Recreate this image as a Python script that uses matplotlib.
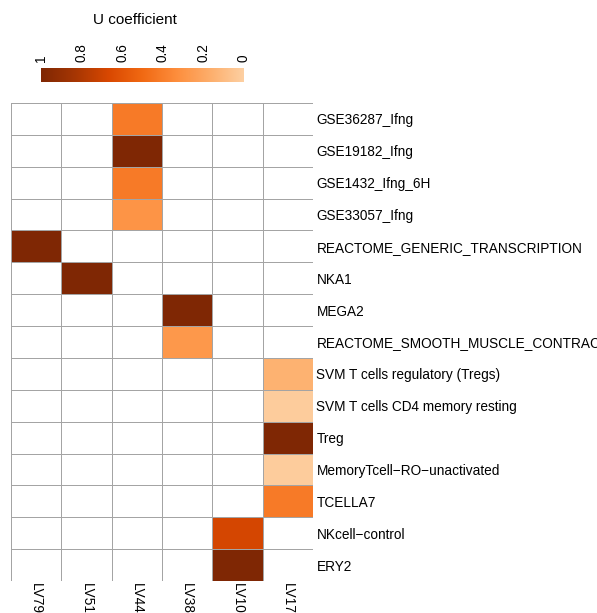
import numpy as np
import matplotlib
matplotlib.use("Agg")
import matplotlib.pyplot as plt
from matplotlib.colors import LinearSegmentedColormap

plt.rcParams['font.family'] = ['Liberation Sans', 'DejaVu Sans']

lvs = ["LV79", "LV51", "LV44", "LV38", "LV107", "LV17"]
pathways = [
    "GSE36287_Ifng",
    "GSE19182_Ifng",
    "GSE1432_Ifng_6H",
    "GSE33057_Ifng",
    "REACTOME_GENERIC_TRANSCRIPTION",
    "NKA1",
    "MEGA2",
    "REACTOME_SMOOTH_MUSCLE_CONTRACTION",
    "SVM T cells regulatory (Tregs)",
    "SVM T cells CD4 memory resting",
    "Treg",
    "MemoryTcell\u2212RO\u2212unactivated",
    "TCELLA7",
    "NKcell\u2212control",
    "ERY2",
]
# non-zero U coefficients: (pathway, LV, value)
entries = [
    ("GSE36287_Ifng", "LV44", 0.42),
    ("GSE19182_Ifng", "LV44", 1.00),
    ("GSE1432_Ifng_6H", "LV44", 0.42),
    ("GSE33057_Ifng", "LV44", 0.30),
    ("REACTOME_GENERIC_TRANSCRIPTION", "LV79", 1.00),
    ("NKA1", "LV51", 1.00),
    ("MEGA2", "LV38", 1.00),
    ("REACTOME_SMOOTH_MUSCLE_CONTRACTION", "LV38", 0.28),
    ("SVM T cells regulatory (Tregs)", "LV17", 0.15),
    ("SVM T cells CD4 memory resting", "LV17", 0.02),
    ("Treg", "LV17", 1.00),
    ("MemoryTcell\u2212RO\u2212unactivated", "LV17", 0.02),
    ("TCELLA7", "LV17", 0.42),
    ("NKcell\u2212control", "LV107", 0.68),
    ("ERY2", "LV107", 1.00),
]
cbar_ticks = [1, 0.8, 0.6, 0.4, 0.2, 0]

U = np.full((len(pathways), len(lvs)), np.nan)
for p, lv, v in entries:
    U[pathways.index(p), lvs.index(lv)] = v

cmap = LinearSegmentedColormap.from_list(
    "u_oranges",
    ["#FDD0A2", "#FDAE6B", "#FD8D3C", "#F16913", "#D94801", "#A63603", "#7F2704"],
)
cmap.set_bad("white")

W, H = 597, 613
fig = plt.figure(figsize=(W / 100, H / 100), dpi=100)

# heatmap body
x0, x1, y0, y1 = 11, 313, 103, 581
ax = fig.add_axes([x0 / W, 1 - y1 / H, (x1 - x0) / W, (y1 - y0) / H])
ax.pcolormesh(np.ma.masked_invalid(U), cmap=cmap, vmin=0, vmax=1,
              edgecolors="#A4A4A4", linewidth=0.65)
ax.set_xlim(0, len(lvs))
ax.set_ylim(len(pathways), 0)
for s in ax.spines.values():
    s.set_visible(False)
ax.set_xticks(np.arange(len(lvs)) + 0.5)
ax.set_xticklabels(lvs, rotation=-90, fontsize=9.8, va="top")
ax.set_yticks(np.arange(len(pathways)) + 0.5)
ax.set_yticklabels(pathways, fontsize=9.8)
ax.yaxis.tick_right()
ax.tick_params(axis="y", length=0, pad=2.5)
ax.tick_params(axis="x", length=0, pad=1.5)

# colour key
cx0, cx1, cy0, cy1 = 41, 244, 68, 82
cax = fig.add_axes([cx0 / W, 1 - cy1 / H, (cx1 - cx0) / W, (cy1 - cy0) / H])
grad = np.linspace(1, 0, 256)[None, :]
cax.imshow(grad, aspect="auto", cmap=cmap, vmin=0, vmax=1,
           extent=[1, 0, 0, 1])
cax.set_xlim(1, 0)
cax.set_yticks([])
for s in cax.spines.values():
    s.set_visible(False)
cax.xaxis.tick_top()
cax.set_xticks(cbar_ticks)
cax.set_xticklabels([f"{t:g}" for t in cbar_ticks], rotation=90, fontsize=9.8)
cax.tick_params(length=0, pad=4)
fig.text(135 / W, 1 - 20 / H, "U coefficient", ha="center", va="center",
         fontsize=11)

fig.savefig("out.png", dpi=100)
